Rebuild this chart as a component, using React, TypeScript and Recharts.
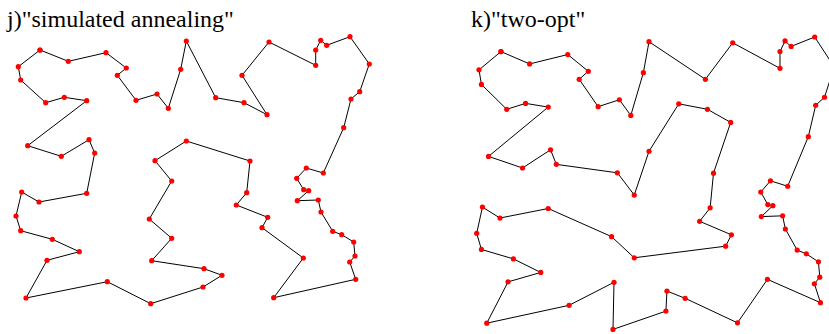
import { LineChart, Line, XAxis, YAxis } from 'recharts';

// city coordinates (same cities for both panels)
const cityX = [
  40, 68.3, 106, 126.3, 117.3, 136, 157, 168.3, 180.7, 186.3, 215.7, 244, 267, 242, 269,
  315.7, 315.7, 320.7, 326.7, 350, 369.3, 359.7, 351, 343.7, 323.3, 306.3, 296.7, 303.7,
  308.7, 297.3, 318.3, 321, 332.7, 341.7, 353.7, 355, 349.7, 355.7, 273.7, 303.3, 262,
  267.7, 236.3, 246.7, 250, 186.3, 155, 171.7, 149.3, 171.7, 151.7, 204, 222, 203, 150.7,
  107.3, 26, 47, 79.3, 52.3, 20.7, 16, 21.7, 39, 86.7, 94.7, 89, 61.3, 27.7, 86.7, 64.3,
  45.7, 20.7, 18.3,
];
const cityY = [
  50, 61.3, 52.7, 68, 75.3, 100.3, 94, 108.3, 69.3, 41, 97.7, 102.7, 114.7, 75.3, 42, 65.3,
  50, 40.3, 45.3, 36.7, 64, 91.7, 99, 127.7, 173, 168, 178.3, 189.7, 190.7, 200.7, 200, 212,
  231.3, 234.7, 242, 256, 262, 279.3, 297.7, 258, 227.7, 217.3, 205, 192.7, 161, 141, 160.7,
  181, 219, 238.3, 260.7, 268.7, 275.3, 287, 303.7, 281.7, 298, 260.3, 251.7, 239.3, 230.7,
  216, 192, 202, 193.3, 153, 139.7, 156.3, 145.7, 100.7, 97.3, 102.7, 80, 66.7,
];

// visiting order of each tour (closed: ends where it starts)
const annealingTour = [
  0, 1, 2, 3, 4, 5, 6, 7, 8, 9, 10, 11, 12, 13, 14, 15, 16, 17, 18, 19, 20, 21, 22, 23, 24,
  25, 26, 27, 28, 29, 30, 31, 32, 33, 34, 35, 36, 37, 38, 39, 40, 41, 42, 43, 44, 45, 46, 47,
  48, 49, 50, 51, 52, 53, 54, 55, 56, 57, 58, 59, 60, 61, 62, 63, 64, 65, 66, 67, 68, 69, 70,
  71, 72, 73, 0,
];
const twoOptTour = [
  0, 1, 2, 3, 4, 5, 6, 7, 8, 9, 13, 14, 15, 16, 17, 18, 19, 20, 21, 22, 23, 24, 25, 26, 27,
  28, 29, 30, 31, 32, 33, 34, 35, 36, 37, 39, 38, 52, 51, 53, 54, 50, 55, 56, 57, 58, 59, 60,
  61, 62, 63, 64, 48, 49, 40, 41, 42, 43, 44, 12, 11, 10, 45, 47, 46, 65, 66, 67, 68, 69, 70,
  71, 72, 73, 0,
];

const toRows = (tour: number[]) => tour.map((i) => ({ x: cityX[i], y: cityY[i] }));

const titleStyle: React.CSSProperties = {
  position: 'absolute',
  top: 6.6,
  fontFamily: "'Liberation Serif', 'DejaVu Serif', serif",
  fontSize: 24,
  lineHeight: '24px',
  color: '#000',
  whiteSpace: 'nowrap',
};

interface TourProps {
  tour: number[];
  xDomain: [number, number];
  yDomain: [number, number];
  left: number;
}

function TourChart({ tour, xDomain, yDomain, left }: TourProps) {
  return (
    <div style={{ position: 'absolute', left, top: 0 }}>
      <LineChart width={420} height={334} data={toRows(tour)} margin={{ top: 0, right: 0, bottom: 0, left: 0 }}>
        <XAxis type="number" dataKey="x" domain={xDomain} hide />
        <YAxis type="number" domain={yDomain} reversed hide />
        <Line
          type="linear"
          dataKey="y"
          stroke="#000"
          strokeWidth={1}
          dot={{ r: 2.6, fill: '#ff0000', stroke: '#ff0000', strokeWidth: 0 }}
          activeDot={false}
          isAnimationActive={false}
        />
      </LineChart>
    </div>
  );
}

export default function App() {
  return (
    <div
      style={{
        position: 'absolute',
        left: 0,
        top: 0,
        width: 829,
        height: 334,
        overflow: 'hidden',
        background: '#fff',
      }}
    >
      <TourChart tour={annealingTour} xDomain={[0, 420]} yDomain={[0, 334]} left={0} />
      <TourChart tour={twoOptTour} xDomain={[-40, 375]} yDomain={[2.9, 307.9]} left={420} />
      <div style={{ ...titleStyle, left: 7 }}>j)"simulated annealing"</div>
      <div style={{ ...titleStyle, left: 471 }}>k)"two-opt"</div>
    </div>
  );
}
